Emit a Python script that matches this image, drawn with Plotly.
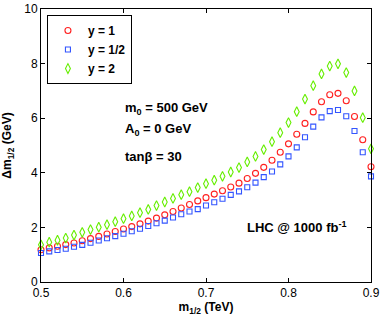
import plotly.graph_objects as go

m_half = [0.50, 0.51, 0.52, 0.53, 0.54, 0.55, 0.56, 0.57, 0.58, 0.59,
          0.60, 0.61, 0.62, 0.63, 0.64, 0.65, 0.66, 0.67, 0.68, 0.69,
          0.70, 0.71, 0.72, 0.73, 0.74, 0.75, 0.76, 0.77, 0.78, 0.79,
          0.80, 0.81, 0.82, 0.83, 0.84, 0.85, 0.86, 0.87, 0.88, 0.89, 0.90]

dm_y1 = [1.18, 1.25, 1.31, 1.37, 1.43, 1.51, 1.59, 1.67, 1.76, 1.85,
         1.94, 2.03, 2.13, 2.23, 2.34, 2.46, 2.58, 2.71, 2.84, 2.97,
         3.09, 3.22, 3.34, 3.48, 3.62, 3.79, 3.98, 4.20, 4.46, 4.75,
         5.06, 5.41, 5.81, 6.23, 6.60, 6.86, 6.91, 6.64, 6.06, 5.21, 4.22]

dm_yhalf = [1.06, 1.12, 1.17, 1.22, 1.29, 1.36, 1.44, 1.52, 1.60, 1.68,
            1.77, 1.86, 1.95, 2.05, 2.15, 2.25, 2.36, 2.48, 2.58, 2.67,
            2.80, 2.92, 3.05, 3.19, 3.32, 3.47, 3.64, 3.84, 4.05, 4.31,
            4.60, 4.93, 5.30, 5.69, 6.03, 6.26, 6.30, 6.07, 5.53, 4.75, 3.87]

dm_y2 = [1.36, 1.46, 1.53, 1.61, 1.72, 1.82, 1.92, 2.01, 2.10, 2.21,
         2.32, 2.42, 2.54, 2.66, 2.80, 2.93, 3.06, 3.20, 3.31, 3.46,
         3.60, 3.73, 3.87, 4.03, 4.19, 4.40, 4.60, 4.85, 5.14, 5.47,
         5.84, 6.24, 6.70, 7.19, 7.62, 7.91, 7.99, 7.67, 7.00, 6.02, 4.88]

series_names = ["<b>y = 1</b>", "<b>y = 1/2</b>", "<b>y = 2</b>"]
x_ticks = [0.5, 0.6, 0.7, 0.8, 0.9]
x_ticklabels = ["0.5", "0.6", "0.7", "0.8", "0.9"]
y_ticks = [0, 2, 4, 6, 8, 10]

FONT = "Liberation Sans, Arial, Helvetica, sans-serif"

fig = go.Figure()
fig.add_trace(go.Scatter(x=m_half, y=dm_y1, mode="markers", name=series_names[0],
                         cliponaxis=False,
                         marker=dict(symbol="circle-open", size=6, color="#ff2020",
                                     line=dict(width=1.1, color="#ff2020"))))
fig.add_trace(go.Scatter(x=m_half, y=dm_yhalf, mode="markers", name=series_names[1],
                         cliponaxis=False,
                         marker=dict(symbol="square-open", size=5, color="#3355ff",
                                     line=dict(width=1.1, color="#3355ff"))))
fig.add_trace(go.Scatter(x=m_half, y=dm_y2, mode="markers", name=series_names[2],
                         cliponaxis=False,
                         marker=dict(symbol="diamond-tall-open", size=7, color="#66ee00",
                                     line=dict(width=1.1, color="#66ee00"))))

ann_font = dict(family=FONT, size=13, color="black")
annots = [
    dict(text="<b>m<sub>0</sub> = 500 GeV</b>", x=0.599, y=6.37),
    dict(text="<b>A<sub>0</sub> = 0 GeV</b>", x=0.599, y=5.6),
    dict(text="<b>tanβ = 30</b>", x=0.599, y=4.58),
    dict(text="<b>LHC @ 1000 fb<sup>-1</sup></b>", x=0.747, y=2.0),
]
for a in annots:
    fig.add_annotation(x=a["x"], y=a["y"], text=a["text"], showarrow=False,
                       xanchor="left", yanchor="middle", font=ann_font)

fig.update_layout(
    width=382, height=316,
    margin=dict(l=41, r=11, t=9, b=34, autoexpand=False),
    paper_bgcolor="white", plot_bgcolor="white",
    font=dict(family=FONT, size=12, color="black"),
    showlegend=True,
    legend=dict(x=0.018, y=0.978, xanchor="left", yanchor="top",
                bordercolor="black", borderwidth=1, bgcolor="white",
                font=dict(family=FONT, size=12, color="black"),
                itemwidth=30, tracegroupgap=0),
    xaxis=dict(range=[0.5, 0.9], tickvals=x_ticks, ticktext=x_ticklabels,
               ticks="inside", ticklen=4, tickcolor="black", automargin=False,
               showline=True, linecolor="black", linewidth=1, mirror="ticks",
               showgrid=False, zeroline=False,
               title=dict(text="<b>m<sub>1/2</sub> (TeV)</b>", standoff=0,
                          font=dict(family=FONT, size=12))),
    yaxis=dict(range=[0, 10], tickvals=y_ticks,
               ticks="inside", ticklen=4, tickcolor="black", automargin=True,
               showline=True, linecolor="black", linewidth=1, mirror="ticks",
               showgrid=False, zeroline=False,
               title=dict(text="<b>Δm<sub>1/2</sub> (GeV)</b>", standoff=10,
                          font=dict(family=FONT, size=12))),
)

fig.write_html("out.html",
               config={"displayModeBar": False},
               post_script="document.body.style.margin='0';"
                           "document.documentElement.style.overflow='hidden';")
